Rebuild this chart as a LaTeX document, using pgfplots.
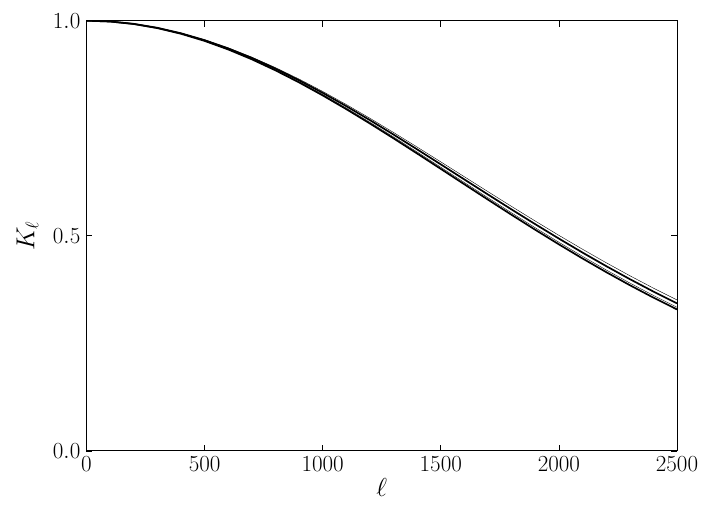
\RequirePackage{fix-cm}
\documentclass[border=0pt]{standalone}
\usepackage{pgfplots}
\pgfplotsset{compat=1.18}
\begin{document}
\begin{tikzpicture}
\path[use as bounding box] (-86.5pt,-62pt) rectangle (626.5pt,451pt);
\begin{axis}[
  at={(0,0)}, anchor=south west,
  scale only axis,
  width=590.5pt, height=430.3pt,
  xmin=0, xmax=2500, ymin=0, ymax=1,
  xtick={0,500,1000,1500,2000,2500},
  ytick={0,0.5,1},
  yticklabel style={/pgf/number format/fixed,/pgf/number format/fixed zerofill,/pgf/number format/precision=1, anchor=east, inner sep=0pt, xshift=-6pt},
  xticklabel style={/pgf/number format/1000 sep={}, anchor=north, inner sep=0pt, yshift=-5.5pt},
  tick align=inside,
  major tick length=6pt,
  tick style={line width=0.8pt, black},
  axis line style={line width=1pt},
  ticklabel style={font=\fontsize{23}{27}\selectfont},
  xlabel={$\ell$}, ylabel={$K_\ell$},
  xlabel style={font=\fontsize{26}{30}\selectfont, at={(axis description cs:0.5,0)}, anchor=center, inner sep=0pt, yshift=-36.5pt},
  ylabel style={font=\fontsize{26}{30}\selectfont, at={(axis description cs:0,0.5)}, rotate=0, anchor=center, inner sep=0pt, yshift=59pt},
  cycle list={{black, line width=1.7pt}},
  no markers,
]
\addplot coordinates {(0,1.0000) (100,0.99818) (200,0.99275) (300,0.98378) (400,0.97137) (500,0.95568) (600,0.93688) (700,0.91522) (800,0.89094) (900,0.86430) (1000,0.83559) (1100,0.80513) (1200,0.77322) (1300,0.74018) (1400,0.70630) (1500,0.67190) (1600,0.63724) (1700,0.60260) (1800,0.56823) (1900,0.53435) (2000,0.50117) (2100,0.46887) (2200,0.43758) (2300,0.40744) (2400,0.37855) (2500,0.35100)};
\addplot coordinates {(0,1.0000) (100,0.99814) (200,0.99260) (300,0.98342) (400,0.97075) (500,0.95473) (600,0.93555) (700,0.91344) (800,0.88868) (900,0.86154) (1000,0.83230) (1100,0.80131) (1200,0.76887) (1300,0.73531) (1400,0.70093) (1500,0.66605) (1600,0.63097) (1700,0.59593) (1800,0.56122) (1900,0.52704) (2000,0.49363) (2100,0.46113) (2200,0.42971) (2300,0.39948) (2400,0.37057) (2500,0.34302)};
\addplot coordinates {(0,1.0000) (100,0.99810) (200,0.99241) (300,0.98302) (400,0.97003) (500,0.95362) (600,0.93400) (700,0.91138) (800,0.88608) (900,0.85834) (1000,0.82851) (1100,0.79690) (1200,0.76386) (1300,0.72971) (1400,0.69476) (1500,0.65935) (1600,0.62377) (1700,0.58830) (1800,0.55321) (1900,0.51871) (2000,0.48503) (2100,0.45233) (2200,0.42077) (2300,0.39046) (2400,0.36152) (2500,0.33400)};
\addplot coordinates {(0,1.0000) (100,0.99807) (200,0.99231) (300,0.98279) (400,0.96963) (500,0.95300) (600,0.93312) (700,0.91022) (800,0.88459) (900,0.85653) (1000,0.82636) (1100,0.79441) (1200,0.76102) (1300,0.72654) (1400,0.69128) (1500,0.65557) (1600,0.61972) (1700,0.58401) (1800,0.54871) (1900,0.51404) (2000,0.48021) (2100,0.44741) (2200,0.41577) (2300,0.38543) (2400,0.35648) (2500,0.32899)};
\end{axis}
\end{tikzpicture}
\end{document}
